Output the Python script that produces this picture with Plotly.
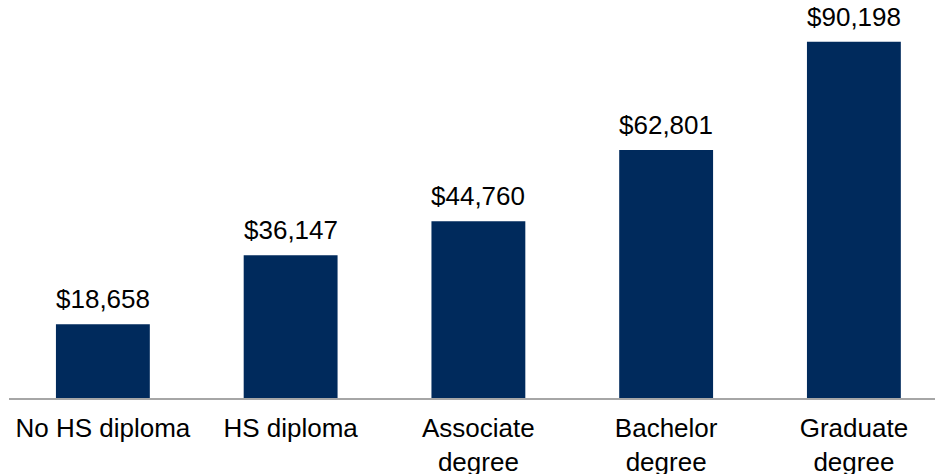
import plotly.graph_objects as go

# Median earnings by educational attainment
categories = ["No HS diploma", "HS diploma", "Associate<br>degree", "Bachelor<br>degree", "Graduate<br>degree"]
earnings = [18658, 36147, 44760, 62801, 90198]
value_labels = ["$18,658", "$36,147", "$44,760", "$62,801", "$90,198"]

NAVY = "#002A5C"
FONT = "Liberation Sans, Arial, sans-serif"

xs = list(range(len(categories)))

fig = go.Figure(
    go.Bar(
        x=xs,
        y=earnings,
        marker=dict(color=NAVY, line=dict(width=0)),
        cliponaxis=False,
        width=0.5,
        hovertemplate="%{y:$,}<extra></extra>",
    )
)

# Dollar labels sitting above each bar
for xi, val, lab in zip(xs, earnings, value_labels):
    fig.add_annotation(
        x=xi, y=val, text=lab,
        showarrow=False,
        xanchor="center", yanchor="bottom",
        yshift=8,
        font=dict(family=FONT, size=26, color="black"),
    )

fig.update_layout(
    width=935,
    height=474,
    margin=dict(l=9, r=0, t=0, b=76, autoexpand=False),
    paper_bgcolor="white",
    plot_bgcolor="white",
    showlegend=False,
    font=dict(family=FONT, size=26, color="black"),
)

fig.update_xaxes(
    tickmode="array",
    tickvals=xs,
    ticktext=categories,
    range=[-0.5, 4.432],
    showline=True,
    linecolor="#A6A6A6",
    linewidth=1.5,
    ticks="",
    showgrid=False,
    zeroline=False,
    automargin=False,
    tickfont=dict(family=FONT, size=26, color="black"),
    ticklabelstandoff=6,
)

fig.update_yaxes(
    range=[0, 100800],
    visible=False,
    showgrid=False,
    zeroline=False,
    automargin=False,
)

fig.write_html("out.html")
